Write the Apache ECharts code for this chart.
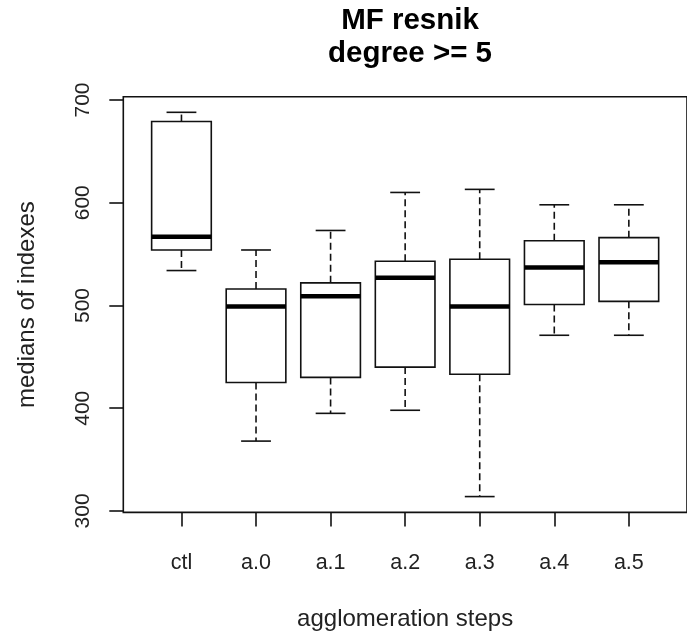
<!DOCTYPE html>
<html>
<head>
<meta charset="utf-8">
<script src="https://cdn.jsdelivr.net/npm/echarts@6/dist/echarts.min.js"></script>
<style>
  html, body { margin: 0; padding: 0; background: #fff; }
  #chart { width: 687px; height: 638px; }
</style>
</head>
<body>
<div id="chart"></div>
<script>
// ---- data ----
const categories = ['ctl', 'a.0', 'a.1', 'a.2', 'a.3', 'a.4', 'a.5'];
const whiskerLow  = [534, 368, 395, 398, 314, 471, 471];
const q1          = [554, 425, 430, 440, 433, 501, 504];
const medians     = [567, 499, 509, 527, 499, 537, 542];
const q3          = [679, 516, 522, 543, 545, 563, 566];
const whiskerHigh = [688, 554, 573, 610, 613, 598, 598];
const yTicks = [300, 400, 500, 600, 700];

const positions = categories.map((c, i) => i + 1);
const seriesData = categories.map((c, i) => [positions[i], whiskerLow[i], q1[i], medians[i], q3[i], whiskerHigh[i]]);

const INK = '#111';
const FONT = 'Liberation Sans, Arial, sans-serif';
const BOXW = 0.8, CAPW = 0.4;

function renderItem(params, api) {
  const x = api.value(0);
  const lo = api.coord([x, api.value(1)]);
  const b1 = api.coord([x, api.value(2)]);
  const md = api.coord([x, api.value(3)]);
  const b3 = api.coord([x, api.value(4)]);
  const hi = api.coord([x, api.value(5)]);
  const half = (api.coord([x + BOXW / 2, 0])[0] - api.coord([x - BOXW / 2, 0])[0]) / 2;
  const cap = (api.coord([x + CAPW / 2, 0])[0] - api.coord([x - CAPW / 2, 0])[0]) / 2;
  const cx = lo[0];
  const solid = { stroke: INK, lineWidth: 1.6, fill: null };
  const dashed = { stroke: INK, lineWidth: 1.6, lineDash: [7, 4], fill: null };
  return {
    type: 'group',
    children: [
      { type: 'line', shape: { x1: cx, y1: b3[1], x2: cx, y2: hi[1] }, style: dashed },
      { type: 'line', shape: { x1: cx, y1: b1[1], x2: cx, y2: lo[1] }, style: dashed },
      { type: 'line', shape: { x1: cx - cap, y1: hi[1], x2: cx + cap, y2: hi[1] }, style: solid },
      { type: 'line', shape: { x1: cx - cap, y1: lo[1], x2: cx + cap, y2: lo[1] }, style: solid },
      { type: 'rect', shape: { x: cx - half, y: b3[1], width: 2 * half, height: b1[1] - b3[1] }, style: { stroke: INK, lineWidth: 1.6, fill: '#fff' } },
      { type: 'line', shape: { x1: cx - half, y1: md[1], x2: cx + half, y2: md[1] }, style: { stroke: '#000', lineWidth: 4.5 } }
    ]
  };
}

const chart = echarts.init(document.getElementById('chart'), null, { renderer: 'canvas' });
chart.setOption({
  backgroundColor: '#fff',
  animation: false,
  title: {
    text: 'MF resnik\ndegree >= 5',
    left: 410,
    top: 4,
    textAlign: 'center',
    padding: 0,
    textStyle: { fontFamily: FONT, fontSize: 29.5, fontWeight: 'bold', color: '#000', lineHeight: 33 }
  },
  grid: {
    left: 123.3, top: 96.8, right: -9, bottom: 125.6,
    show: true, borderColor: INK, borderWidth: 1.6, backgroundColor: 'transparent'
  },
  xAxis: {
    type: 'value',
    min: 0.22, max: 7.78,
    name: 'agglomeration steps',
    nameLocation: 'middle',
    nameGap: 95,
    nameTextStyle: { fontFamily: FONT, fontSize: 24, color: '#222' },
    axisLine: { show: false },
    splitLine: { show: false },
    axisTick: { show: true, customValues: positions, length: 14, lineStyle: { color: INK, width: 1.6 } },
    axisLabel: {
      customValues: positions,
      formatter: v => categories[Math.round(v) - 1] || '',
      margin: 40,
      fontFamily: FONT, fontSize: 21.5, color: '#222'
    }
  },
  yAxis: {
    type: 'value',
    min: 298.6, max: 703.1,
    name: 'medians of indexes',
    nameLocation: 'middle',
    nameRotate: 90,
    nameGap: 84,
    nameTextStyle: { fontFamily: FONT, fontSize: 24, color: '#222' },
    axisLine: { show: false },
    splitLine: { show: false },
    axisTick: { show: true, customValues: yTicks, length: 14, lineStyle: { color: INK, width: 1.6 } },
    axisLabel: {
      customValues: yTicks,
      rotate: 90,
      margin: 30,
      fontFamily: FONT, fontSize: 21, color: '#222'
    }
  },
  series: [{
    type: 'custom',
    renderItem: renderItem,
    data: seriesData,
    encode: { x: 0, y: [1, 2, 3, 4, 5] },
    clip: false
  }]
});
</script>
</body>
</html>
